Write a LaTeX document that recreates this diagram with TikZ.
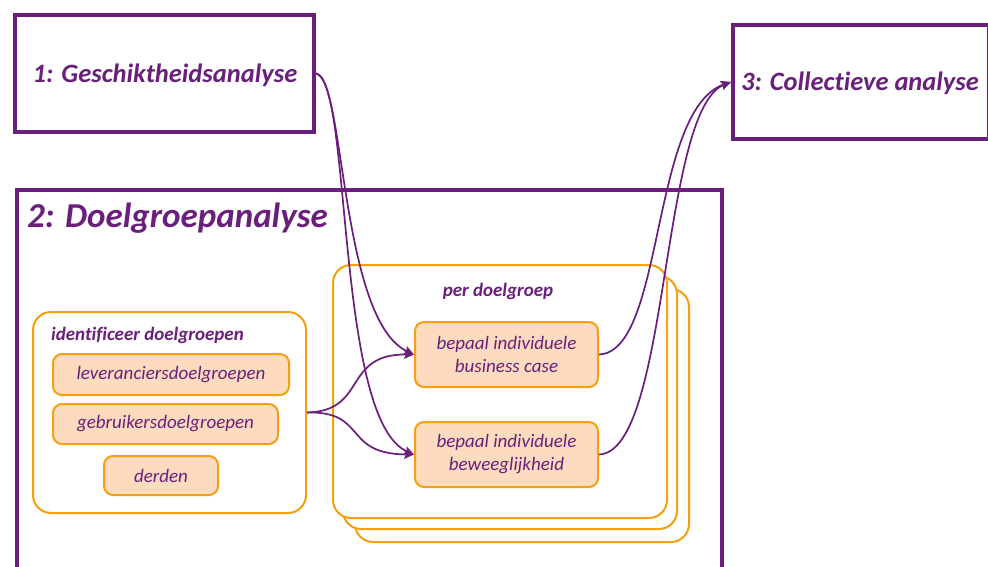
\documentclass[tikz,border=0pt]{standalone}
\usepackage{fontspec}
\setmainfont{Carlito}[Ligatures=NoCommon]
\usetikzlibrary{arrows.meta}
\definecolor{paars}{HTML}{6A1F7C}
\definecolor{oranje}{HTML}{F5A00F}
\definecolor{perzik}{HTML}{FDDBBE}
\tikzset{
  bigbox/.style={draw=paars, line width=4pt, fill=white, inner sep=0pt},
  groupbox/.style={draw=oranje, line width=2pt, fill=white, rounded corners=18pt, inner sep=0pt},
  taskbox/.style={draw=oranje, line width=2pt, fill=perzik, rounded corners=9pt, inner sep=0pt,
    align=center, text=paars, font=\fontsize{19}{23}\selectfont\itshape},
  headtxt/.style={text=paars, font=\fontsize{26.5}{30}\selectfont\bfseries\itshape, inner sep=0pt},
  subtxt/.style={text=paars, font=\fontsize{19}{22}\selectfont\bfseries\itshape, inner sep=0pt},
  flow/.style={draw=paars, line width=1.7pt, -{Stealth[length=10pt,width=9pt,inset=2pt]}},
}
\begin{document}
\begin{tikzpicture}[x=1pt,y=-1pt]
\useasboundingbox (0,0) rectangle (988,567);
\clip (0,0) rectangle (988,567);

% phase 1 and phase 3
\node[bigbox, minimum width=299pt, minimum height=117pt] (b1) at (164.5,73.5) {};
\node[headtxt] (t1) at (165,75) {1: Geschiktheidsanalyse};
\node[bigbox, minimum width=256pt, minimum height=114pt] (b3) at (861,82) {};
\node[headtxt] (t3) at (860,83) {3: Collectieve analyse};

% phase 2 frame
\node[bigbox, minimum width=705pt, minimum height=420pt, anchor=north west] (b2) at (15,188) {};
\node[headtxt, font=\fontsize{35}{40}\selectfont\bfseries\itshape, anchor=west] (t2) at (27,218) {2: Doelgroepanalyse};

% stacked per-group panels
\node[groupbox, minimum width=334pt, minimum height=253pt, anchor=north west] (s3) at (354,288) {};
\node[groupbox, minimum width=334pt, minimum height=253pt, anchor=north west] (s2) at (342,275) {};
\node[groupbox, minimum width=334pt, minimum height=253pt, anchor=north west] (s1) at (332,264) {};
\node[subtxt] (pd) at (498,291) {per doelgroep};
\node[taskbox, minimum width=183pt, minimum height=65pt] (bc) at (506.5,354.5) {bepaal individuele\\business case};
\node[taskbox, minimum width=183pt, minimum height=65pt] (bw) at (506.5,454.5) {bepaal individuele\\beweeglijkheid};

% identify target groups
\node[groupbox, minimum width=273pt, minimum height=201pt, anchor=north west] (id) at (32,311) {};
\node[subtxt, anchor=west] (idt) at (51,335) {identificeer doelgroepen};
\node[taskbox, minimum width=236pt, minimum height=41pt] (lev) at (171,374.5) {leveranciersdoelgroepen};
\node[taskbox, minimum width=225pt, minimum height=40pt] (geb) at (165.5,424) {gebruikersdoelgroepen};
\node[taskbox, minimum width=114pt, minimum height=39pt] (der) at (161,475.5) {derden};

% connectors
\draw[flow] (b1.east) .. controls (345,78) and (340,320) .. (bc.west);
\draw[flow] (b1.east) .. controls (352,80) and (335,420) .. (bw.west);
\draw[flow] (id.east) .. controls (368,411) and (342,354) .. (bc.west);
\draw[flow] (id.east) .. controls (368,411) and (342,454) .. (bw.west);
\draw[flow] (bc.east) .. controls (665,352) and (650,110) .. (b3.west);
\draw[flow] (bw.east) .. controls (670,452) and (660,110) .. (b3.west);
\end{tikzpicture}
\end{document}
